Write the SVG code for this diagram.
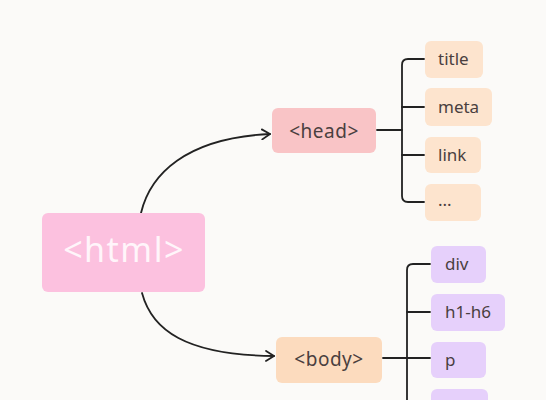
<svg xmlns="http://www.w3.org/2000/svg" width="546" height="400" viewBox="0 0 546 400">
<defs>
<marker id="arr" markerWidth="10" markerHeight="12" refX="9" refY="6" orient="auto" markerUnits="userSpaceOnUse">
<path d="M1,1 L9,6 L1,11" fill="none" stroke="#222" stroke-width="1.8" stroke-linecap="round" stroke-linejoin="round"/>
</marker>
<style>
.t{font-family:"Noto Sans","Open Sans","DejaVu Sans",sans-serif;fill:#4a3f3f}
.c{font-size:17px}
.lk{fill:none;stroke:#222;stroke-width:1.8;stroke-linecap:round}
.hc{fill:#FDE4CE}
.bc{fill:#E6D0FB}
</style>
</defs>
<rect width="546" height="400" fill="#FBFAF8"/>
<g id="connectors">
<path class="lk" d="M141,213 C150,175 185,138 270,134" marker-end="url(#arr)"/>
<path class="lk" d="M142,293 C152,330 185,355 274,356" marker-end="url(#arr)"/>
<path class="lk" d="M377,130 H402"/>
<path class="lk" d="M424,59 H408 Q402,59 402,65 V196 Q402,202 408,202 H424"/>
<path class="lk" d="M402,107 H424 M402,155 H424"/>
<path class="lk" d="M383,358 H430"/>
<path class="lk" d="M430,264 H413 Q407,264 407,270 V402"/>
<path class="lk" d="M407,312 H430 M407,407 H430"/>
</g>
<g id="html">
<rect x="42" y="213" width="163" height="79" rx="6" fill="#FCC1DF"/>
<text class="t" x="124" y="262" font-size="34" text-anchor="middle" style="fill:#FFF5FA" letter-spacing="1.5">&lt;html&gt;</text>
</g>
<g id="head">
<rect x="272" y="108" width="104" height="45" rx="6" fill="#F9C4C6"/>
<text class="t" x="324" y="138" font-size="19" text-anchor="middle" letter-spacing="0.5">&lt;head&gt;</text>
</g>
<g id="body">
<rect x="276" y="337" width="106" height="46" rx="6" fill="#FCDBBE"/>
<text class="t" x="329" y="366" font-size="19" text-anchor="middle" letter-spacing="0.5">&lt;body&gt;</text>
</g>
<g id="title"><rect class="hc" x="425" y="41" width="58" height="37" rx="6"/><text class="t c" x="438" y="65">title</text></g>
<g id="meta"><rect class="hc" x="425" y="88" width="67" height="38" rx="6"/><text class="t c" x="438" y="113">meta</text></g>
<g id="link"><rect class="hc" x="425" y="137" width="56" height="36" rx="6"/><text class="t c" x="438" y="161">link</text></g>
<g id="etc"><rect class="hc" x="425" y="184" width="56" height="37" rx="6"/><text class="t c" x="438" y="206">...</text></g>
<g id="div"><rect class="bc" x="431" y="246" width="55" height="37" rx="6"/><text class="t c" x="445" y="270">div</text></g>
<g id="h1h6"><rect class="bc" x="431" y="294" width="74" height="37" rx="6"/><text class="t c" x="445" y="318">h1-h6</text></g>
<g id="p"><rect class="bc" x="431" y="342" width="55" height="36" rx="6"/><text class="t c" x="445" y="366">p</text></g>
<g id="next"><rect class="bc" x="431" y="389" width="57" height="37" rx="6"/></g>
</svg>
